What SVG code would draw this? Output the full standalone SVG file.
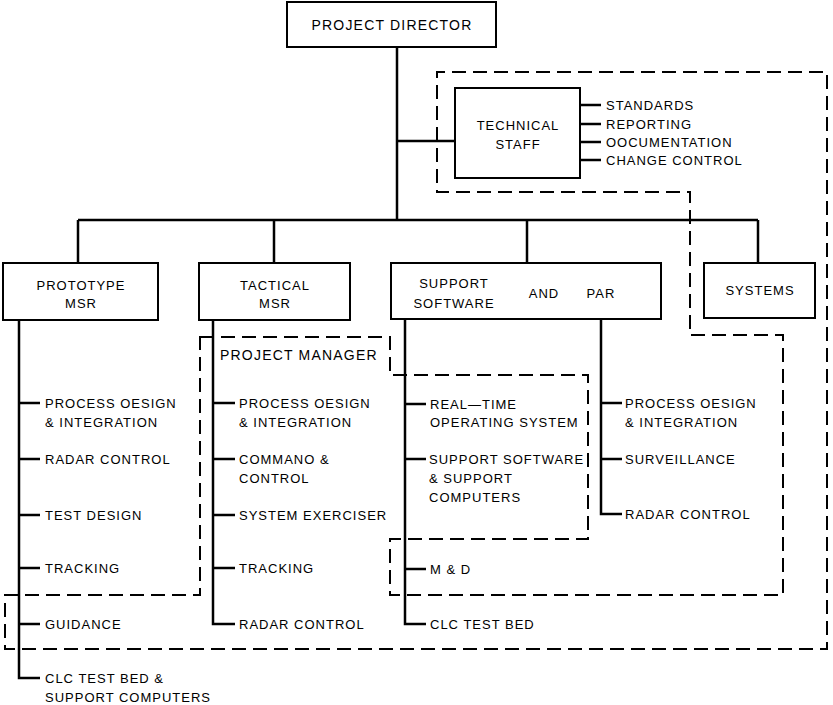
<svg xmlns="http://www.w3.org/2000/svg" width="833" height="705" viewBox="0 0 833 705">
<style>
.box{fill:#fff;stroke:#000;stroke-width:2}
.ln{fill:none;stroke:#000;stroke-width:2.5}
.dash{fill:none;stroke:#000;stroke-width:2;stroke-dasharray:14 7}
text{font-family:"Liberation Sans",Arial,sans-serif;font-size:13px;letter-spacing:1px;fill:#000}
.c{text-anchor:middle}
.big{font-size:14px;letter-spacing:1.2px}
</style>
<rect width="833" height="705" fill="#fff"/>
<g id="boundary">
<path class="dash" d="M200,337 H390 V375 H588 V539 H390 V595 H783 V335 H690 V192 H437 V72 H827 V649 H5 V595 H200 Z"/>
</g>
<g id="connectors">
<path class="ln" d="M397,47 V220 M78,220 H758 M78,220 V263 M274,220 V263 M527,220 V263 M758,220 V263 M397,141 H455"/>
<path class="ln" d="M580,105 H601 M580,124 H601 M580,142 H601 M580,160 H601"/>
<path class="ln" d="M19,320 V678 H40 M19,403 H40 M19,459 H40 M19,515 H40 M19,568 H40 M19,624 H40"/>
<path class="ln" d="M213,320 V624 H235 M213,403 H235 M213,459 H235 M213,515 H235 M213,568 H235"/>
<path class="ln" d="M405,320 V624 H426 M405,404 H426 M405,459 H426 M405,569 H426"/>
<path class="ln" d="M601,320 V514 H622 M601,403 H622 M601,459 H622"/>
</g>
<g id="project-director">
<rect class="box" x="287" y="2" width="209" height="45"/>
<text class="c big" x="392" y="30">PROJECT DIRECTOR</text>
</g>
<g id="technical-staff">
<rect class="box" x="455" y="88" width="125" height="90"/>
<text class="c" x="518" y="130">TECHNICAL</text>
<text class="c" x="518" y="149">STAFF</text>
<text x="606" y="110">STANDARDS</text>
<text x="606" y="129">REPORTING</text>
<text x="606" y="147">OOCUMENTATION</text>
<text x="606" y="165">CHANGE CONTROL</text>
</g>
<g id="prototype-msr">
<rect class="box" x="3" y="263" width="155" height="57"/>
<text class="c" x="81" y="290">PROTOTYPE</text>
<text class="c" x="81" y="308">MSR</text>
<text x="45" y="408">PROCESS OESIGN</text>
<text x="45" y="427">&amp; INTEGRATION</text>
<text x="45" y="464">RADAR CONTROL</text>
<text x="45" y="520">TEST DESIGN</text>
<text x="45" y="573">TRACKING</text>
<text x="45" y="629">GUIDANCE</text>
<text x="45" y="683">CLC TEST BED &amp;</text>
<text x="45" y="702">SUPPORT COMPUTERS</text>
</g>
<g id="tactical-msr">
<rect class="box" x="199" y="263" width="151" height="57"/>
<text class="c" x="275" y="290">TACTICAL</text>
<text class="c" x="275" y="308">MSR</text>
<text class="big" x="220" y="360">PROJECT MANAGER</text>
<text x="239" y="408">PROCESS OESIGN</text>
<text x="239" y="427">&amp; INTEGRATION</text>
<text x="239" y="464">COMMANO &amp;</text>
<text x="239" y="483">CONTROL</text>
<text x="239" y="520">SYSTEM EXERCISER</text>
<text x="239" y="573">TRACKING</text>
<text x="239" y="629">RADAR CONTROL</text>
</g>
<g id="support-software">
<rect class="box" x="391" y="263" width="270" height="56"/>
<text class="c" x="454" y="288">SUPPORT</text>
<text class="c" x="454" y="308">SOFTWARE</text>
<text class="c" x="544" y="298">AND</text>
<text class="c" x="601" y="298">PAR</text>
<text x="430" y="409">REAL—TIME</text>
<text x="430" y="427">OPERATING SYSTEM</text>
<text x="429" y="464">SUPPORT SOFTWARE</text>
<text x="429" y="483">&amp; SUPPORT</text>
<text x="429" y="502">COMPUTERS</text>
<text x="430" y="574">M &amp; D</text>
<text x="430" y="629">CLC TEST BED</text>
<text x="625" y="408">PROCESS OESIGN</text>
<text x="625" y="427">&amp; INTEGRATION</text>
<text x="625" y="464">SURVEILLANCE</text>
<text x="625" y="519">RADAR CONTROL</text>
</g>
<g id="systems">
<rect class="box" x="704" y="263" width="111" height="55"/>
<text class="c" x="760" y="295">SYSTEMS</text>
</g>
</svg>
